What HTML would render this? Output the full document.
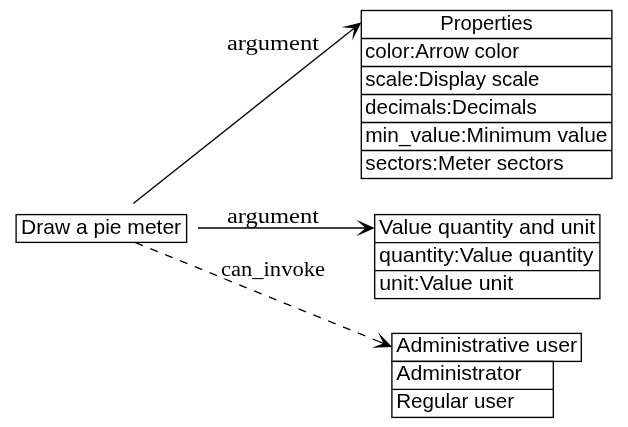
<!DOCTYPE html>
<html><head><meta charset="utf-8"><title>Draw a pie meter</title><style>
html,body{margin:0;padding:0;background:#fff;width:628px;height:427px;overflow:hidden;}
svg{display:block;will-change:transform;}
text{fill:#000;}
.s{font-family:"Liberation Sans", sans-serif;font-size:19.8px;}
.r{font-family:"Liberation Serif", serif;font-size:20.0px;}
</style></head><body>
<svg width="628" height="427" viewBox="0 0 628 427">
<rect width="628" height="427" fill="#fff"/>
<rect x="361.3" y="10.5" width="250.60" height="168.00" fill="none" stroke="#000" stroke-width="1.3333"/>
<line x1="361.3" y1="38.5" x2="611.9" y2="38.5" stroke="#000" stroke-width="1.3333"/>
<line x1="361.3" y1="66.5" x2="611.9" y2="66.5" stroke="#000" stroke-width="1.3333"/>
<line x1="361.3" y1="94.5" x2="611.9" y2="94.5" stroke="#000" stroke-width="1.3333"/>
<line x1="361.3" y1="122.5" x2="611.9" y2="122.5" stroke="#000" stroke-width="1.3333"/>
<line x1="361.3" y1="150.5" x2="611.9" y2="150.5" stroke="#000" stroke-width="1.3333"/>
<rect x="374.7" y="214.6" width="225.20" height="84.00" fill="none" stroke="#000" stroke-width="1.3333"/>
<line x1="374.7" y1="242.6" x2="599.9" y2="242.6" stroke="#000" stroke-width="1.3333"/>
<line x1="374.7" y1="270.6" x2="599.9" y2="270.6" stroke="#000" stroke-width="1.3333"/>
<rect x="391.9" y="333.4" width="189.40" height="28.00" fill="none" stroke="#000" stroke-width="1.3333"/>
<rect x="391.9" y="361.4" width="161.40" height="56.00" fill="none" stroke="#000" stroke-width="1.3333"/>
<line x1="391.9" y1="389.4" x2="553.3" y2="389.4" stroke="#000" stroke-width="1.3333"/>
<rect x="16.1" y="214.6" width="170.50" height="27.80" fill="none" stroke="#000" stroke-width="1.3333"/>
<line x1="133.30" y1="203.40" x2="349.74" y2="31.66" stroke="#000" stroke-width="1.3333"/>
<polygon points="360.18,23.37 346.01,26.96 354.96,27.52 349.74,31.66 354.96,27.52 353.47,36.36" fill="#000" stroke="#000" stroke-width="1.3333" stroke-miterlimit="10"/>
<line x1="198.00" y1="228.00" x2="359.87" y2="228.00" stroke="#000" stroke-width="1.3333"/>
<polygon points="373.20,228.00 359.87,222.00 366.53,228.00 359.87,228.00 366.53,228.00 359.87,234.00" fill="#000" stroke="#000" stroke-width="1.3333" stroke-miterlimit="10"/>
<line x1="135.50" y1="242.60" x2="378.19" y2="341.25" stroke="#000" stroke-width="1.3333" stroke-dasharray="8,8"/>
<polygon points="390.54,346.27 380.45,335.69 384.37,343.76 378.19,341.25 384.37,343.76 375.93,346.81" fill="#000" stroke="#000" stroke-width="1.3333" stroke-miterlimit="10"/>
<text class="s" x="440.24" y="29.70" textLength="92.34" lengthAdjust="spacingAndGlyphs">Properties</text>
<text class="s" x="365.03" y="57.60" textLength="154.11" lengthAdjust="spacingAndGlyphs">color:Arrow color</text>
<text class="s" x="365.33" y="85.60" textLength="174.18" lengthAdjust="spacingAndGlyphs">scale:Display scale</text>
<text class="s" x="365.03" y="113.60" textLength="171.71" lengthAdjust="spacingAndGlyphs">decimals:Decimals</text>
<text class="s" x="365.16" y="141.60" textLength="242.37" lengthAdjust="spacingAndGlyphs">min_value:Minimum value</text>
<text class="s" x="365.32" y="169.60" textLength="198.23" lengthAdjust="spacingAndGlyphs">sectors:Meter sectors</text>
<text class="s" x="379.01" y="233.70" textLength="216.15" lengthAdjust="spacingAndGlyphs">Value quantity and unit</text>
<text class="s" x="379.11" y="261.70" textLength="214.33" lengthAdjust="spacingAndGlyphs">quantity:Value quantity</text>
<text class="s" x="379.23" y="289.70" textLength="133.93" lengthAdjust="spacingAndGlyphs">unit:Value unit</text>
<text class="s" x="396.26" y="351.90" textLength="180.79" lengthAdjust="spacingAndGlyphs">Administrative user</text>
<text class="s" x="396.26" y="380.00" textLength="125.39" lengthAdjust="spacingAndGlyphs">Administrator</text>
<text class="s" x="396.21" y="408.00" textLength="117.93" lengthAdjust="spacingAndGlyphs">Regular user</text>
<text class="s" x="21.03" y="233.70" textLength="160.11" lengthAdjust="spacingAndGlyphs">Draw a pie meter</text>
<text class="r" x="226.94" y="49.70" textLength="92.10" lengthAdjust="spacingAndGlyphs">argument</text>
<text class="r" x="226.94" y="223.30" textLength="92.10" lengthAdjust="spacingAndGlyphs">argument</text>
<text class="r" x="220.94" y="275.60" textLength="104.14" lengthAdjust="spacingAndGlyphs">can_invoke</text>
</svg>
</body></html>
